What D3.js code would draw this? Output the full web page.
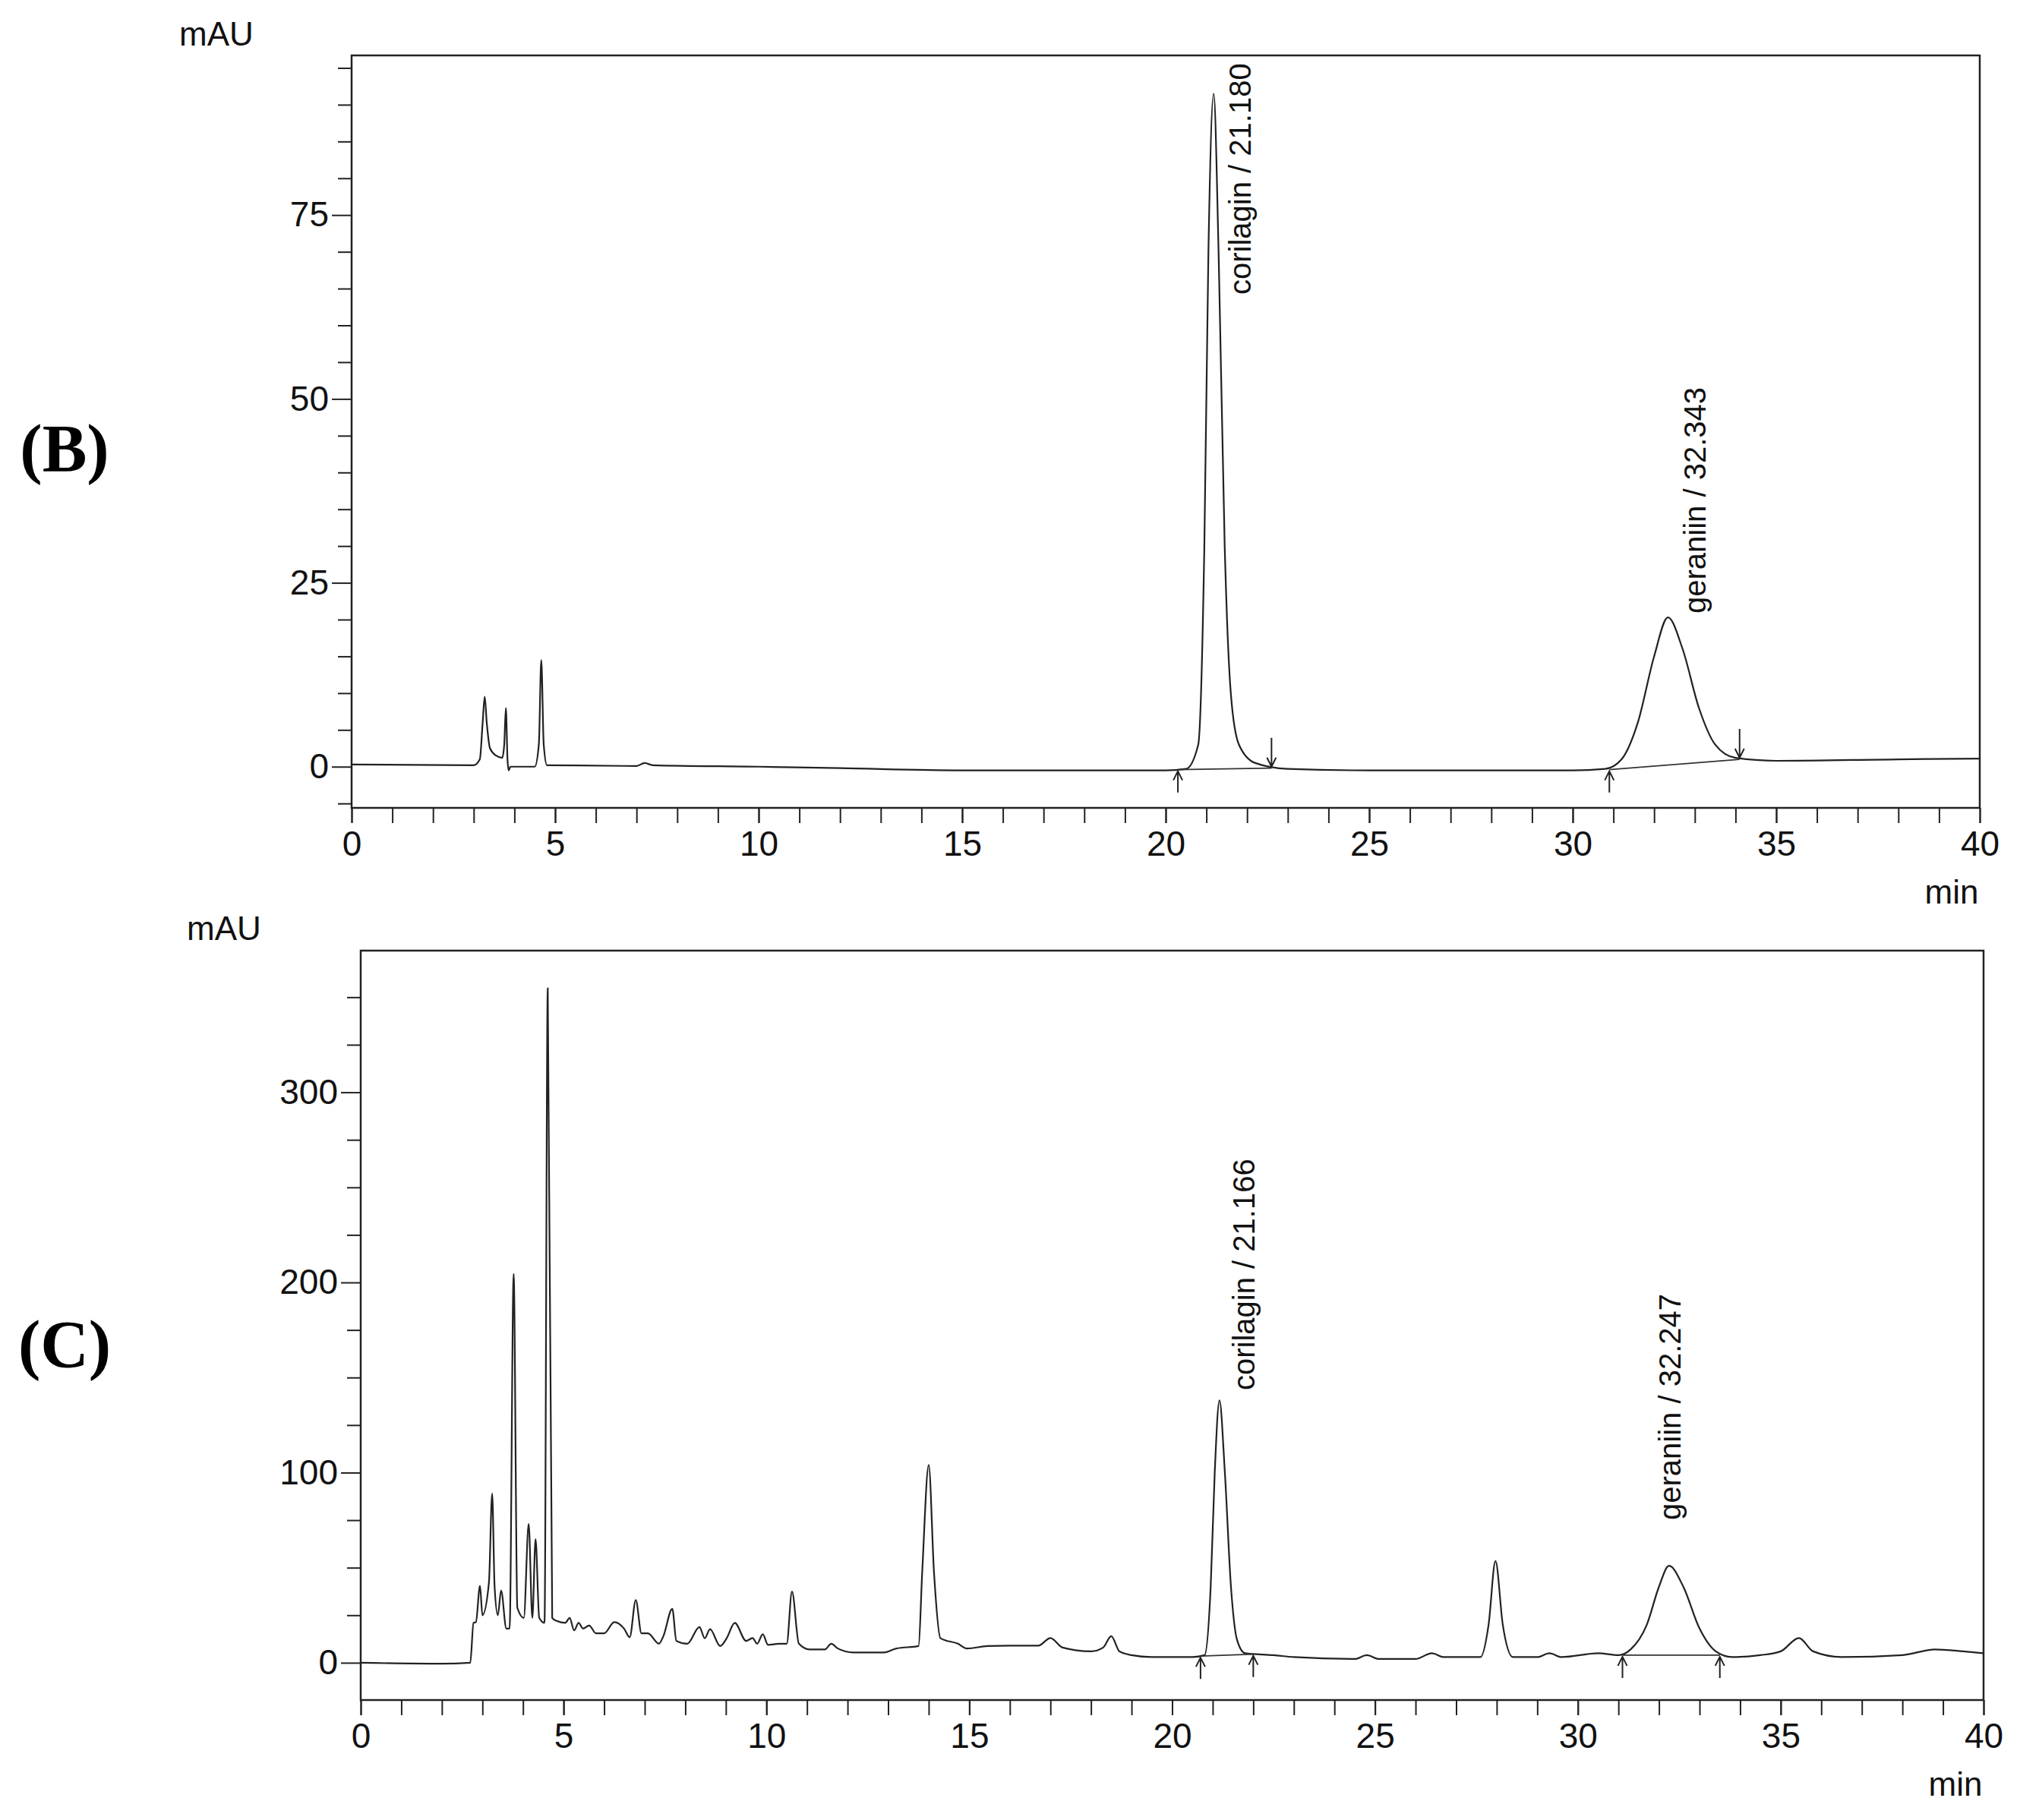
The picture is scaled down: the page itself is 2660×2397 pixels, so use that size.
<!DOCTYPE html>
<html><head><meta charset="utf-8">
<script src="https://cdn.jsdelivr.net/npm/d3@7"></script>
<style>body{margin:0;background:#fff}</style></head>
<body><svg id="c" width="2660" height="2397"></svg>
<script>
// Panel B chromatogram: [time (min), signal (mAU)]
const timeB = [0,3.0,3.15,3.22,3.27,3.32,3.4,3.55,3.7,3.75,3.79,3.83,3.86,3.9,4.5,4.6,4.66,4.72,4.8,7.0,7.2,7.4,10,12,15,20,20.5,20.8,20.95,21.05,21.18,21.3,21.45,21.6,21.8,22.2,23,25,30,30.8,31.2,31.6,32.0,32.34,32.7,33.1,33.5,34,35,38,40];
const signalB = [0.3,0.2,1,6,9.5,6,2.5,1.5,1.2,3,8,1,-0.5,0,0,3,14.5,3,0.2,0.1,0.5,0.2,0,-0.2,-0.5,-0.5,-0.3,3,30,70,91.5,70,30,10,3,0.5,-0.3,-0.5,-0.5,-0.3,1,6,15,20.3,16,8,3,1.2,0.8,1,1.1];
// Panel C chromatogram
const timeC = [0,2.0,2.7,2.78,2.84,2.94,3.0,3.16,3.24,3.3,3.38,3.46,3.59,3.67,3.77,3.86,4.02,4.14,4.23,4.31,4.4,4.53,4.61,4.72,4.83,5.04,5.15,5.26,5.37,5.48,5.63,5.8,6.0,6.25,6.49,6.63,6.78,6.92,7.08,7.35,7.46,7.68,7.78,8.05,8.35,8.48,8.61,8.86,9.02,9.22,9.5,9.66,9.77,9.91,10.04,10.31,10.5,10.63,10.8,11.06,11.44,11.6,11.76,12.14,12.9,13.2,13.75,13.84,14.0,14.13,14.29,14.72,14.94,15.45,16,16.7,17.0,17.3,18,18.3,18.5,18.7,19.0,19.5,20.5,20.8,20.95,21.05,21.166,21.3,21.45,21.6,21.8,22.5,23,24.5,24.8,25.1,26,26.4,26.7,27.6,27.8,27.97,28.15,28.4,29,29.3,29.6,30.5,31,31.3,31.7,32.0,32.247,32.6,33,33.4,33.8,34.5,35.0,35.45,35.8,36.5,38,38.8,39.5,40];
const signalC = [0,-0.5,0,21,21.4,40.5,25,42,89,40,25,38,18,18,204.5,29,23.6,73,23.6,65,23.6,21,354.7,23.6,22,21,23.6,17,21,18,19.6,15.5,15.5,21.4,18,13.4,33,15.5,15.5,10,14,28.4,11.5,10,18.8,12.9,17.7,8.8,12.9,21,11.5,13,10,15,9.4,10,10,37.5,10,7,7,10,7.5,5.4,5.4,7.5,8.8,47.7,104,47.7,12.9,10,7.5,8.8,9,9,13,8,6,8,14,6,4,3,3,4,40,100,138,100,40,12,5,4,3,2,4,2,2,5,3,3,20,53.5,20,3,3,5,3,5,4,7,20,40,51,40,18,6,3,4,6,13,6,3,4,7,6,5];

const panels = [
  {tag:"(B)", t:timeB, v:signalB, left:463,right:2607,top:73,bottom:1064, ymin:-5.6,ymax:96.7, major:[0,25,50,75], minor:5,
   tagY:620, mauX:285, mauY:60, minY:1190,
   peaks:[{label:"corilagin / 21.180", t:21.18, dx:49, textTop:110, start:20.3,end:22.6,startDir:"up",endDir:"down", base0:-0.4, base1:-0.2},
          {label:"geraniin / 32.343", t:32.343, dx:49, textTop:530, start:30.9,end:34.1,startDir:"up",endDir:"down", base0:-0.4, base1:1.0}]},
  {tag:"(C)", t:timeC, v:signalC, left:475,right:2612,top:1252,bottom:2239, ymin:-19.6,ymax:374.5, major:[0,100,200,300], minor:25,
   tagY:1800, mauX:295, mauY:1238, minY:2365,
   peaks:[{label:"corilagin / 21.166", t:21.166, dx:46, textTop:1553, start:20.7,end:22.0,startDir:"up",endDir:"up", base0:3.5, base1:4.5},
          {label:"geraniin / 32.247", t:32.247, dx:15, textTop:1724, start:31.1,end:33.5,startDir:"up",endDir:"up", base0:4, base1:4}]}
];
const xTicks = [0,5,10,15,20,25,30,35,40];
const svg = d3.select("#c");
const FONT = "Liberation Sans, Arial, sans-serif";

panels.forEach(p=>{
  const x = d3.scaleLinear().domain([0,40]).range([p.left,p.right]);
  const y = d3.scaleLinear().domain([p.ymin,p.ymax]).range([p.bottom,p.top]);
  const g = svg.append("g");
  const minors = d3.range(Math.ceil(p.ymin/p.minor)*p.minor, p.ymax, p.minor).filter(v=>!p.major.includes(v));
  g.append("g").attr("transform",`translate(${p.left},0)`)
    .call(d3.axisLeft(y).tickValues(minors).tickSize(18).tickFormat(""))
    .call(a=>a.select(".domain").remove()).selectAll("line").attr("stroke","#222").attr("stroke-width",2);
  g.append("g").attr("transform",`translate(${p.left},0)`)
    .call(d3.axisLeft(y).tickValues(p.major).tickSize(26).tickPadding(4).tickFormat(d3.format("d")))
    .call(a=>a.select(".domain").remove())
    .call(a=>a.selectAll("line").attr("stroke","#222").attr("stroke-width",2))
    .call(a=>a.selectAll("text").attr("font-size",46).attr("font-family",FONT).attr("fill","#111"));
  g.append("g").attr("transform",`translate(0,${p.bottom})`)
    .call(d3.axisBottom(x).tickValues(d3.range(0,41,1)).tickSize(20).tickFormat(""))
    .call(a=>a.select(".domain").remove()).selectAll("line").attr("stroke","#222").attr("stroke-width",2);
  g.append("g").attr("transform",`translate(0,${p.bottom})`)
    .call(d3.axisBottom(x).tickValues(xTicks).tickSize(20).tickPadding(10).tickFormat(d3.format("d")))
    .call(a=>a.select(".domain").remove())
    .call(a=>a.selectAll("line").attr("stroke","#222").attr("stroke-width",2))
    .call(a=>a.selectAll("text").attr("font-size",46).attr("font-family",FONT).attr("fill","#111"));
  g.append("rect").attr("x",p.left).attr("y",p.top).attr("width",p.right-p.left).attr("height",p.bottom-p.top)
    .attr("fill","none").attr("stroke","#222").attr("stroke-width",2.5);
  const pts = p.t.map((t,i)=>[t,p.v[i]]);
  g.append("path").datum(pts).attr("fill","none").attr("stroke","#222").attr("stroke-width",2.2)
    .attr("d",d3.line().x(d=>x(d[0])).y(d=>y(d[1])).curve(d3.curveMonotoneX));
  p.peaks.forEach(pk=>{
    g.append("line").attr("x1",x(pk.start)).attr("x2",x(pk.end)).attr("y1",y(pk.base0)).attr("y2",y(pk.base1))
      .attr("stroke","#333").attr("stroke-width",1.8);
    [[pk.start,pk.base0,pk.startDir],[pk.end,pk.base1,pk.endDir]].forEach(([t,b,dir])=>{
      const xx=x(t), yy=y(b);
      let y0,y1;
      if(dir==="up"){y0=yy+30;y1=yy+2;}else{y0=yy-40;y1=yy-2;}
      const s = dir==="up"?1:-1;
      g.append("path").attr("d",`M${xx},${y0}L${xx},${y1}M${xx-6},${y1+12*s}L${xx},${y1}L${xx+6},${y1+12*s}`)
        .attr("fill","none").attr("stroke","#222").attr("stroke-width",2);
    });
    g.append("text").attr("transform",`translate(${x(pk.t)+pk.dx},${pk.textTop+278}) rotate(-90)`)
      .attr("text-anchor","start").attr("font-size",40).attr("font-family",FONT).attr("fill","#111").text(pk.label);
  });
  svg.append("text").attr("x",p.mauX).attr("y",p.mauY).attr("text-anchor","middle").attr("font-size",44)
    .attr("font-family",FONT).attr("fill","#111").text("mAU");
  svg.append("text").attr("x",p.right-37).attr("y",p.minY).attr("text-anchor","middle").attr("font-size",44)
    .attr("font-family",FONT).attr("fill","#111").text("min");
  svg.append("text").attr("x",85).attr("y",p.tagY).attr("text-anchor","middle").attr("font-size",88).attr("font-weight","bold")
    .attr("font-family","Liberation Serif, Times New Roman, serif").attr("fill","#000").text(p.tag);
});
</script></body></html>
